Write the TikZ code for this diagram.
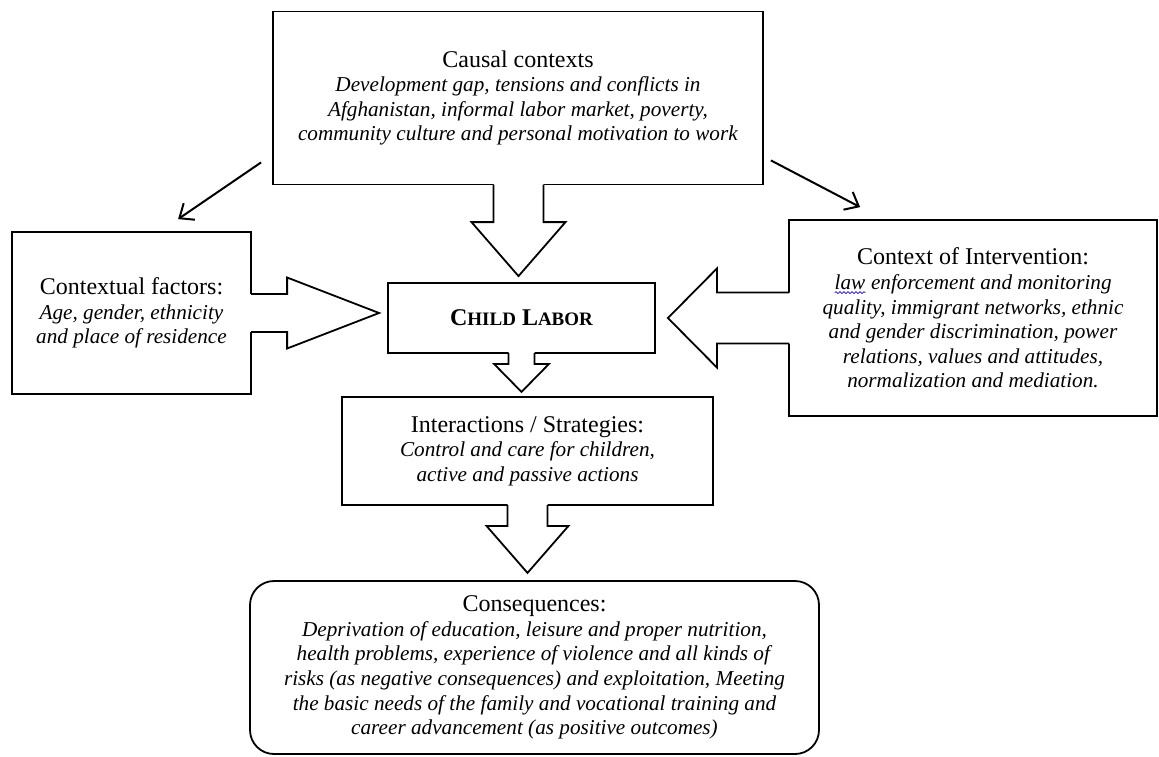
\documentclass[tikz,border=0pt]{standalone}
\usepackage{fontspec}
\setmainfont{Liberation Serif}
\usetikzlibrary{calc,arrows.meta,decorations.pathmorphing}

\tikzset{
  box/.style={draw, line width=0.9pt, align=center, inner sep=0pt, font=\fontsize{10.6}{12.3}\selectfont},
  blk/.style={draw, line width=0.9pt, line join=miter, line cap=rect},
  barb/.style={line width=1pt, -{Straight Barb[length=6pt,width=10pt,line width=1pt]}}
}

% box title
\newcommand{\ttl}[1]{{\fontsize{12}{12.3}\selectfont #1}}
% block arrow pointing down: #1 start anchor, #2 tip, #3 half shaft, #4 half head, #5 head length
\newcommand{\blkdown}[5]{%
  \fill[white] ($(#2|-#1)+(-#3,-3)$) -- ($(#2)+(-#3,-#5)$) -- ($(#2)+(-#4,-#5)$) -- (#2)
    -- ($(#2)+(#4,-#5)$) -- ($(#2)+(#3,-#5)$) -- ($(#2|-#1)+(#3,-3)$) -- cycle;
  \draw[blk] ($(#2|-#1)+(-#3,0)$) -- ($(#2)+(-#3,-#5)$) -- ($(#2)+(-#4,-#5)$) -- (#2)
    -- ($(#2)+(#4,-#5)$) -- ($(#2)+(#3,-#5)$) -- ($(#2|-#1)+(#3,0)$);}
% block arrow sideways: #5 head length, negative when it points left
\newcommand{\blkside}[5]{%
  \fill[white] ($(#2-|#1)+({-3*sign(#5)},-#3)$) -- ($(#2)+({-1*(#5)},-#3)$) -- ($(#2)+({-1*(#5)},-#4)$) -- (#2)
    -- ($(#2)+({-1*(#5)},#4)$) -- ($(#2)+({-1*(#5)},#3)$) -- ($(#2-|#1)+({-3*sign(#5)},#3)$) -- cycle;
  \draw[blk] ($(#2-|#1)+(0,-#3)$) -- ($(#2)+({-1*(#5)},-#3)$) -- ($(#2)+({-1*(#5)},-#4)$) -- (#2)
    -- ($(#2)+({-1*(#5)},#4)$) -- ($(#2)+({-1*(#5)},#3)$) -- ($(#2-|#1)+(0,#3)$);}
% spell-check wave under a word
\newcommand{\spellwave}[1]{\tikz[baseline=(w.base)]{\node[draw=none, inner sep=0pt, outer sep=0pt,
    minimum width=0pt, minimum height=0pt] (w) {#1};
  \draw[blue!75!violet, line width=0.35pt, decorate, decoration={snake,amplitude=0.45pt,segment length=2pt}]
    ([yshift=-1.6pt]w.base west) -- ([yshift=-1.6pt]w.base east);}}

\begin{document}
\begin{tikzpicture}[x=0.5pt,y=-0.5pt]
\useasboundingbox (0,0) rectangle (1159,756);

\node[box, minimum width=245pt, minimum height=86.5pt] (causal) at (518,98)
  {\ttl{Causal contexts}\\
   \textit{Development gap, tensions and conflicts in}\\
   \textit{Afghanistan, informal labor market, poverty,}\\
   \textit{community culture and personal motivation to work}};
\node[box, minimum width=119.5pt, minimum height=81pt] (ctx) at (131.5,313)
  {\ttl{Contextual factors:}\\
   \textit{Age, gender, ethnicity}\\
   \textit{and place of residence}};
\node[box, minimum width=133.5pt, minimum height=35pt] (child) at (521.5,318)
  {\bfseries\fontsize{12}{14}\selectfont C{\fontsize{9.5}{14}\selectfont HILD} L{\fontsize{9.5}{14}\selectfont ABOR}};
\node[box, minimum width=184pt, minimum height=98pt] (inter) at (973,318)
  {\ttl{Context of Intervention:}\\
   \textit{\spellwave{law} enforcement and monitoring}\\
   \textit{quality, immigrant networks, ethnic}\\
   \textit{and gender discrimination, power}\\
   \textit{relations, values and attitudes,}\\
   \textit{normalization and mediation.}};
\node[box, minimum width=185.5pt, minimum height=54pt] (act) at (527.5,451)
  {\ttl{Interactions / Strategies:}\\
   \textit{Control and care for children,}\\
   \textit{active and passive actions}};
\node[box, rounded corners=12pt, minimum width=284.5pt, minimum height=86.5pt] (cons) at (534.5,667.5)
  {\ttl{Consequences:}\\
   \textit{Deprivation of education, leisure and proper nutrition,}\\
   \textit{health problems, experience of violence and all kinds of}\\
   \textit{risks (as negative consequences) and exploitation, Meeting}\\
   \textit{the basic needs of the family and vocational training and}\\
   \textit{career advancement (as positive outcomes)}};

% thin arrows
\draw[barb] ([shift={(-11,-23)}]causal.south west) -- ([shift={(167,-12)}]ctx.north west);
\draw[barb] ([shift={(7,-25)}]causal.south east) -- ([shift={(72,-12)}]inter.north west);

% block arrows
\coordinate (t1) at ($(child.north)+(-3,-6)$);
\coordinate (t2) at ($(child.south)+(0,38)$);
\coordinate (t3) at ($(act.south)+(0,67)$);
\coordinate (t4) at ($(child.west)+(-8,-5)$);
\coordinate (t5) at ($(child.east)+(12,0)$);
\blkdown{causal.south}{t1}{25}{47}{54}
\blkdown{child.south}{t2}{13}{27.5}{28}
\blkdown{act.south}{t3}{20}{41}{47}
\blkside{ctx.east}{t4}{19}{35.5}{92}
\blkside{inter.west}{t5}{25.5}{49.5}{-49}

\end{tikzpicture}
\end{document}
